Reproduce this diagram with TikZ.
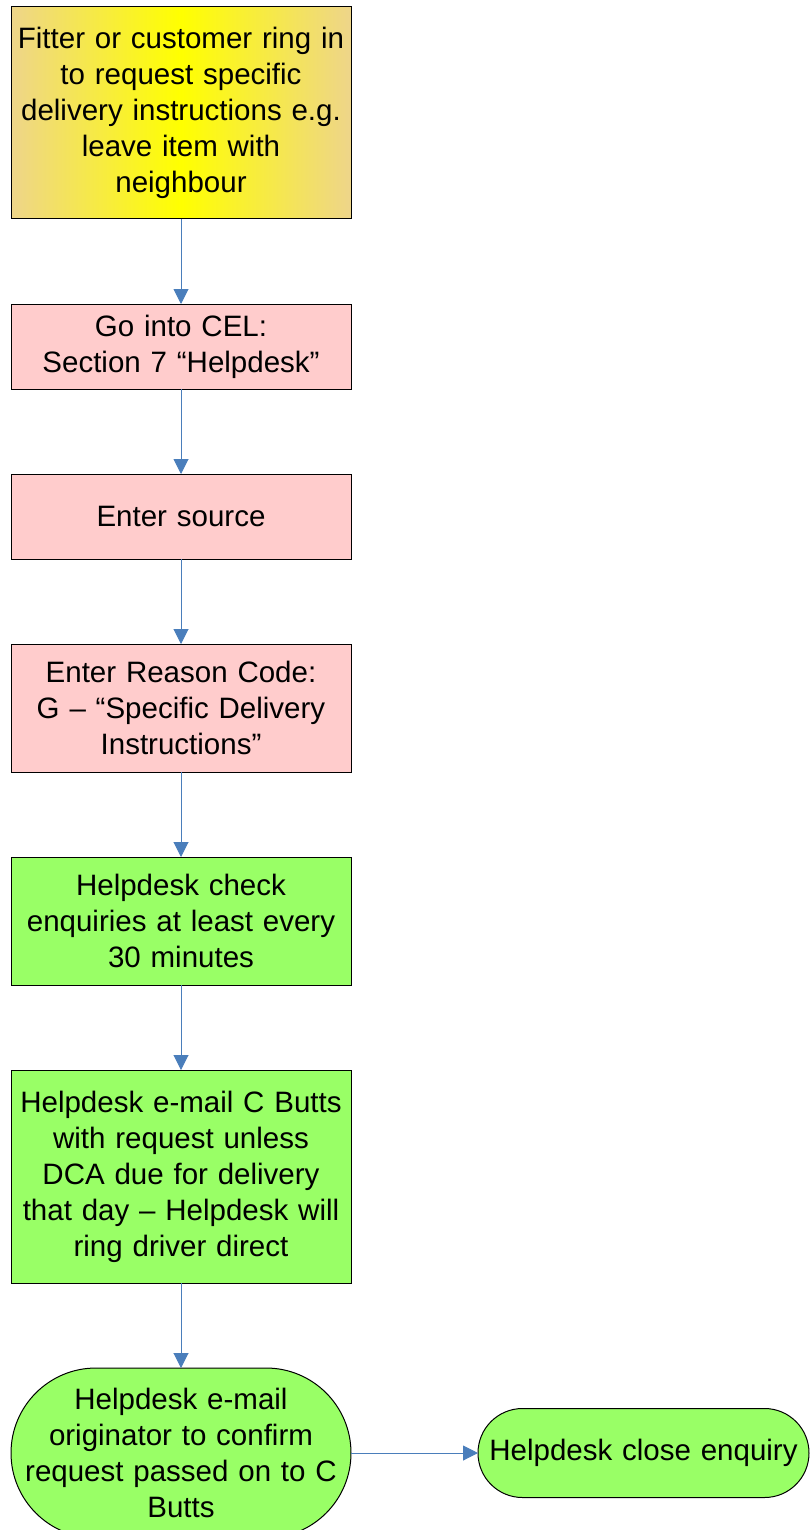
\documentclass[tikz,border=0pt]{standalone}
\usepackage{fontspec}
\setmainfont{Liberation Sans}
\usetikzlibrary{shapes}
\usetikzlibrary{arrows.meta}
\usetikzlibrary{positioning}

\definecolor{boxtan}{HTML}{EED58A}
\definecolor{boxpink}{HTML}{FFCCCC}
\definecolor{boxgreen}{HTML}{99FF66}
\definecolor{arrowblue}{HTML}{4A7EBB}

\begin{document}
\begin{tikzpicture}
                [x=1pt, y=1pt, node distance=85pt,
                 every node/.style={draw, line width=1pt, outer sep=0pt, align=center, text width=330pt, minimum width=340pt, inner sep=0pt, font=\fontsize{29.5}{36}\selectfont},
                 pinkbox/.style={fill=boxpink},
                 greenbox/.style={fill=boxgreen},
                 endbox/.style={fill=boxgreen, rounded corners=#1},
                 flow/.style={draw=arrowblue, line width=1pt, -{Triangle[length=15pt, width=15pt]}}]
                \useasboundingbox (0,0) rectangle (809,-1530);
                \node (ring) [left color=boxtan, right color=boxtan, middle color=yellow, minimum height=212pt] at (181,-113) {Fitter or customer ring in\\to request specific\\delivery instructions e.g.\\leave item with\\neighbour};
                \node (cel) [pinkbox, minimum height=85pt, below=of ring] {Go into CEL:\\Section 7 “Helpdesk”};
                \node (source) [pinkbox, minimum height=85pt, below=of cel] {Enter source};
                \node (reason) [pinkbox, minimum height=128pt, below=of source] {Enter Reason Code:\\G – “Specific Delivery\\Instructions”};
                \node (check) [greenbox, minimum height=128pt, below=of reason] {Helpdesk check\\enquiries at least every\\30 minutes};
                \node (mail) [greenbox, minimum height=213pt, below=of check] {Helpdesk e-mail C Butts\\with request unless\\DCA due for delivery\\that day – Helpdesk will\\ring driver direct};
                \node (confirm) [endbox=85pt, minimum height=170pt, below=of mail] {Helpdesk e-mail\\originator to confirm\\request passed on to C\\Butts};
                \node (close) [endbox=44.5pt, minimum height=89pt, text width=320pt, minimum width=331pt, right=127pt of confirm] {Helpdesk close enquiry};
                \draw[flow] (ring) -- (cel);
                \draw[flow] (cel) -- (source);
                \draw[flow] (source) -- (reason);
                \draw[flow] (reason) -- (check);
                \draw[flow] (check) -- (mail);
                \draw[flow] (mail) -- (confirm);
                \draw[flow] (confirm) -- (close);
            \end{tikzpicture}
\end{document}
